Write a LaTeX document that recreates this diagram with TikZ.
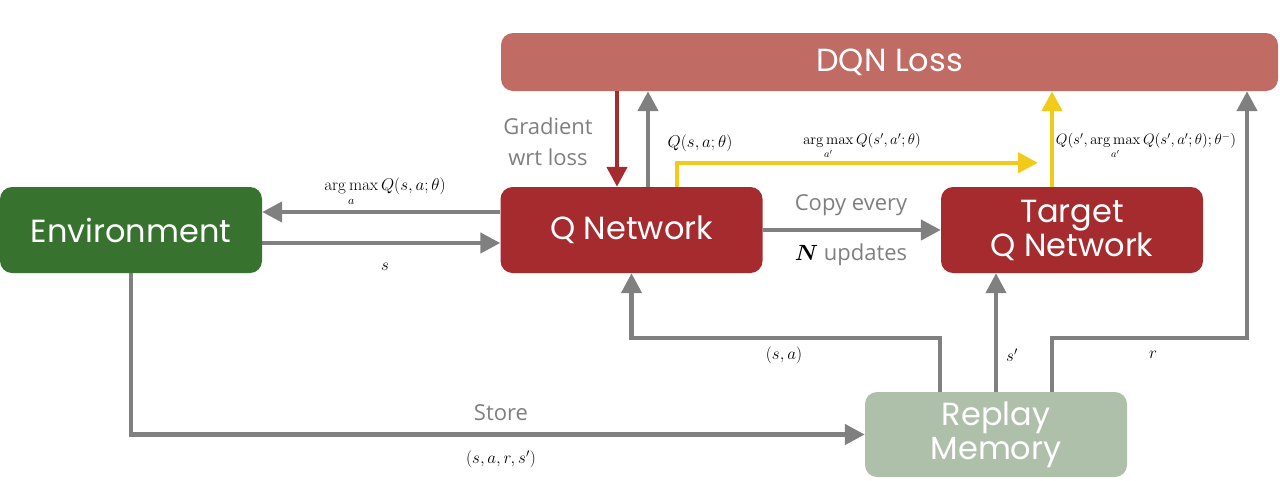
\RequirePackage{fix-cm}
\documentclass[tikz,border=0pt]{standalone}
\usepackage{amsmath}
\usepackage[no-math]{fontspec}
\setmainfont{Open Sans}
\newfontfamily\boxfont{Poppins}
\usetikzlibrary{arrows.meta}
\definecolor{envgreen}{HTML}{38722F}
\definecolor{qred}{HTML}{A62B2F}
\definecolor{lossred}{HTML}{C06B64}
\definecolor{replaygreen}{HTML}{AFC0AA}
\definecolor{arrgray}{HTML}{808080}
\definecolor{yel}{HTML}{F2CB1A}
\definecolor{lblgray}{HTML}{7F7F7F}
\newcommand{\myargmax}{\mathop{\mathrm{arg\,max}}\limits}
\tikzset{
  box/.style={rounded corners=12pt, minimum height=86pt, minimum width=262pt, text=white,
    font=\boxfont\fontsize{32}{34}\selectfont, align=center, inner sep=0pt},
  arr/.style={line width=4.5pt, draw=arrgray, -{Triangle[length=20pt,width=20pt]}},
  redarr/.style={arr, draw=qred, fill=qred},
  yarr/.style={arr, draw=yel},
  lbl/.style={text=lblgray, font=\fontsize{22}{31}\selectfont, align=center, inner sep=0pt},
  mlbl/.style={font=\fontsize{17}{20}\selectfont, inner sep=0pt},
  slbl/.style={font=\fontsize{15}{18}\selectfont, inner sep=0pt}
}
\begin{document}
\begin{tikzpicture}[x=1pt,y=-1pt]
\useasboundingbox (0,0) rectangle (1280,480);
\node[box, fill=lossred, minimum width=777pt, minimum height=58pt] (loss) at (889.5,62) {DQN Loss};
\node[box, fill=envgreen] (env) at (131,230) {Environment};
\node[box, fill=qred] (qnet) at (631.5,230) {Q Network};
\node[box, fill=qred] (target) at (1072,230) {Target\\Q Network};
\node[box, fill=replaygreen, minimum height=85pt] (replay) at (996,434.5) {Replay\\Memory};

% Q network <-> loss
\draw[redarr] ([xshift=-14.5pt]qnet.north |- loss.south) -- ([xshift=-14.5pt]qnet.north);
\draw[arr] ([xshift=16.5pt]qnet.north) -- ([xshift=16.5pt]qnet.north |- loss.south);
% yellow paths
\coordinate (tx) at ([xshift=-34pt]target.north);
\draw[yarr] ([xshift=45.5pt]qnet.north) -- ++(0,-24) coordinate (yc) -- (yc -| tx);
\draw[yarr] ([xshift=-20pt]target.north) -- ([xshift=-20pt]target.north |- loss.south);
% env <-> q
\draw[arr] ([yshift=18pt]qnet.west) -- ([yshift=18pt]qnet.west -| env.east);
\draw[arr] ([yshift=-13pt]env.east) -- ([yshift=-13pt]env.east -| qnet.west);
% q -> target
\draw[arr] (qnet.east) -- (target.west);
% env -> replay
\draw[arr] (env.south) |- (replay.west);
% replay -> q, target, loss
\draw[arr] ([xshift=-56pt]replay.north) -- ++(0,-54) -| (qnet.south);
\draw[arr] (replay.north) -- (replay.north |- target.south);
\draw[arr] ([xshift=56pt]replay.north) -- ++(0,-54) -| ([xshift=357.5pt]loss.south);

% labels
\node[mlbl] (largmax) at (385,192) {$\myargmax_{a} Q(s,a;\theta)$};
\node[mlbl] (ls) at (385,267) {$s$};
\node[lbl] (lgrad) at (548,142) {Gradient\\wrt loss};
\node[mlbl] (lq) at (700,143) {$Q(s,a;\theta)$};
\node[slbl] (lyarg) at (862,146) {$\myargmax_{a'} Q(s',a';\theta)$};
\node[slbl] (ltq) at (1146,146) {$Q(s',\myargmax_{a'} Q(s',a';\theta);\theta^{-})$};
\node[lbl] (lcopy) at (851,205) {Copy every};
\node[lbl] (lupd) at (851,255) {\textcolor{black}{$\boldsymbol{N}$} updates};
\node[mlbl] (lsa) at (784,355) {$(s,a)$};
\node[mlbl] (lsp) at (1012,355) {$s'$};
\node[mlbl] (lr) at (1153,355) {$r$};
\node[lbl] (lstore) at (501,413) {Store};
\node[mlbl] (ltup) at (501,459) {$(s,a,r,s')$};
\end{tikzpicture}
\end{document}
